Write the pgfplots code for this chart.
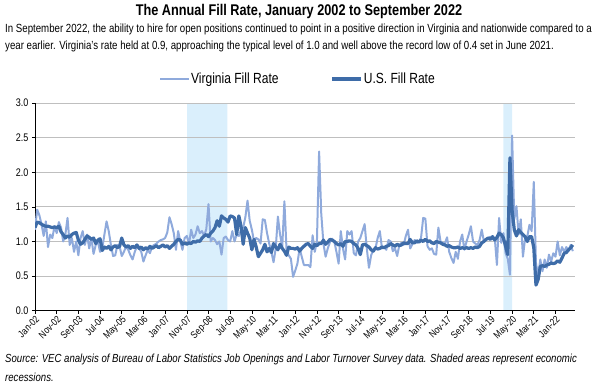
\documentclass[border=0pt]{standalone}
\usepackage{fontspec}
\setmainfont{Liberation Sans}[FakeStretch=0.82]
\usepackage{pgfplots}
\pgfplotsset{compat=1.18}
\usepackage{pgfplotstable}
\definecolor{vaC}{HTML}{8FAADC}
\definecolor{usC}{HTML}{3E6CA8}
\definecolor{shadeC}{HTML}{DAEFFC}
\definecolor{gridC}{HTML}{BFBFBF}
\pgfplotstableread{
i va us
0 1.17 1.20
1 1.46 1.28
2 1.38 1.27
3 1.25 1.25
4 1.08 1.23
5 1.29 1.22
6 0.92 1.22
7 1.10 1.21
8 1.05 1.20
9 1.22 1.21
10 1.12 1.20
11 1.28 1.22
12 1.20 1.14
13 1.00 1.10
14 1.10 1.05
15 1.34 1.08
16 0.95 1.06
17 1.05 1.10
18 0.85 1.12
19 1.00 1.13
20 0.80 1.02
21 1.05 0.96
22 1.15 0.98
23 0.95 1.03
24 1.10 1.08
25 0.90 1.06
26 1.05 1.03
27 0.82 1.05
28 0.95 0.97
29 1.00 1.02
30 0.85 1.04
31 0.90 0.87
32 1.10 0.92
33 1.29 0.90
34 1.15 0.93
35 0.95 0.88
36 0.79 0.92
37 0.80 0.94
38 0.95 0.91
39 0.93 0.93
40 0.79 1.05
41 0.85 0.95
42 0.93 0.92
43 0.88 0.94
44 0.80 0.90
45 0.74 0.93
46 0.85 0.91
47 0.93 0.95
48 0.90 0.90
49 0.85 0.92
50 0.71 0.88
51 0.80 0.91
52 0.88 0.89
53 0.83 0.93
54 0.93 0.90
55 0.95 0.92
56 0.97 0.94
57 1.00 0.91
58 1.02 0.93
59 1.03 0.95
60 1.05 0.92
61 1.13 0.94
62 1.35 0.90
63 1.25 0.93
64 1.12 0.96
65 0.88 1.00
66 1.15 1.03
67 1.00 1.02
68 0.88 0.96
69 1.05 0.98
70 1.08 0.96
71 0.96 0.98
72 1.17 0.97
73 1.05 1.00
74 1.10 0.99
75 1.22 1.01
76 1.12 1.00
77 1.15 1.05
78 1.08 1.08
79 1.18 1.10
80 1.54 1.07
81 1.00 1.12
82 1.05 1.15
83 1.02 1.20
84 0.96 1.30
85 1.00 1.22
86 0.81 1.37
87 1.05 1.34
88 1.07 1.32
89 1.02 1.28
90 1.00 1.37
91 1.15 1.36
92 1.00 1.34
93 1.10 1.10
94 1.08 1.37
95 1.17 1.22
96 1.20 0.96
97 1.35 1.20
98 1.59 1.12
99 1.30 1.05
100 1.17 0.88
101 1.00 1.03
102 1.05 0.92
103 1.03 0.78
104 0.97 0.83
105 1.32 0.88
106 1.31 0.96
107 1.12 0.85
108 0.97 0.90
109 0.85 0.84
110 0.70 0.97
111 0.90 0.92
112 1.36 0.88
113 1.10 0.96
114 0.92 0.90
115 1.58 0.86
116 0.87 0.80
117 0.80 0.92
118 0.75 0.90
119 0.49 0.90
120 0.58 0.89
121 0.68 0.91
122 0.90 0.86
123 0.78 0.90
124 0.66 0.93
125 0.66 0.96
126 0.66 0.97
127 0.63 0.93
128 1.09 0.90
129 0.85 0.96
130 1.00 0.94
131 2.30 0.97
132 1.40 0.97
133 0.97 1.02
134 0.78 0.96
135 0.90 0.99
136 0.99 1.03
137 1.04 1.02
138 1.00 1.00
139 0.85 0.97
140 0.68 0.95
141 1.15 0.97
142 0.90 0.93
143 0.74 1.00
144 1.15 1.00
145 1.10 1.01
146 1.15 1.00
147 0.83 0.97
148 0.80 0.95
149 1.00 0.90
150 1.05 0.81
151 1.15 0.95
152 1.25 0.96
153 0.90 0.94
154 0.62 0.92
155 0.80 0.88
156 0.88 0.86
157 0.90 0.91
158 1.05 0.89
159 1.15 0.90
160 0.90 0.92
161 0.92 0.91
162 0.88 0.93
163 1.02 0.94
164 1.00 0.97
165 0.86 0.95
166 0.90 0.93
167 0.79 0.96
168 0.95 0.94
169 0.98 0.95
170 0.95 0.98
171 1.08 0.97
172 1.17 0.97
173 0.90 1.03
174 0.96 0.98
175 1.02 0.98
176 0.98 1.01
177 1.00 0.99
178 1.05 1.02
179 1.34 1.00
180 1.33 1.03
181 0.93 1.00
182 0.88 1.01
183 0.90 0.98
184 0.82 0.97
185 0.81 1.00
186 1.20 0.99
187 1.00 0.98
188 0.98 0.96
189 0.97 0.95
190 1.06 0.93
191 0.85 0.94
192 0.76 0.92
193 0.69 0.91
194 0.85 0.91
195 0.75 0.92
196 1.00 0.90
197 1.10 0.91
198 0.88 0.90
199 1.00 0.91
200 1.10 0.90
201 1.22 0.91
202 1.00 0.90
203 0.97 0.92
204 0.95 0.91
205 1.02 0.93
206 1.17 0.98
207 1.00 1.00
208 1.02 1.03
209 1.05 1.05
210 1.07 1.03
211 1.03 1.07
212 1.05 1.02
213 0.66 1.06
214 1.34 1.12
215 0.98 1.10
216 1.12 1.05
217 0.83 0.93
218 0.75 0.81
219 0.52 2.21
220 2.53 1.45
221 1.32 1.17
222 1.51 1.08
223 1.10 1.17
224 1.32 1.13
225 0.78 1.10
226 1.05 1.07
227 1.07 1.00
228 1.24 1.07
229 1.15 1.07
230 1.86 0.91
231 0.69 0.37
232 0.50 0.45
233 0.74 0.64
234 0.57 0.65
235 0.74 0.64
236 0.62 0.66
237 0.81 0.67
238 0.71 0.69
239 0.83 0.68
240 0.78 0.69
241 1.00 0.72
242 0.80 0.70
243 0.92 0.76
244 0.85 0.83
245 0.92 0.84
246 0.86 0.88
247 0.95 0.91
248 0.86 0.95
}\fillrate
\begin{document}
\begin{tikzpicture}
\path (0,0) rectangle (598pt,-386pt);
\node[anchor=base, inner sep=0] at (299pt,-15.5pt) {\fontsize{15.5}{17}\selectfont\bfseries The Annual Fill Rate, January 2002 to September 2022};
\node[anchor=base west, inner sep=0] at (5pt,-32pt) {\fontsize{11.8}{13}\selectfont In September 2022, the ability to hire for open positions continued to point in a positive direction in Virginia and nationwide compared to a};
\node[anchor=base west, inner sep=0] at (5pt,-49pt) {\fontsize{11.8}{13}\selectfont year earlier. Virginia's rate held at 0.9, approaching the typical level of 1.0 and well above the record low of 0.4 set in June 2021.};
\node[anchor=base west, inner sep=0] at (5pt,-362pt) {\fontsize{11.7}{13}\selectfont\itshape Source: VEC analysis of Bureau of Labor Statistics Job Openings and Labor Turnover Survey data. Shaded areas represent economic};
\node[anchor=base west, inner sep=0] at (5pt,-381pt) {\fontsize{11.7}{13}\selectfont\itshape recessions.};
\begin{axis}[
  set layers,
  at={(35pt,-310.7pt)}, anchor=south west,
  scale only axis, width=540pt, height=207.7pt,
  xmin=0, xmax=249, ymin=0, ymax=3,
  axis x line*=bottom, axis y line*=left,
  axis line style={black, line width=0.8pt, -},
  xtick={0,10,...,240},
  xticklabels={Jan-02,Nov-02,Sep-03,Jul-04,May-05,Mar-06,Jan-07,Nov-07,Sep-08,Jul-09,May-10,Mar-11,Jan-12,Nov-12,Sep-13,Jul-14,May-15,Mar-16,Jan-17,Nov-17,Sep-18,Jul-19,May-20,Mar-21,Jan-22},
  x tick label style={rotate=45, anchor=north east, font=\fontsize{10}{11}\selectfont, inner sep=1pt},
  ytick={0,0.5,...,3},
  yticklabel style={font=\fontsize{11}{12}\selectfont, /pgf/number format/.cd, fixed, fixed zerofill, precision=1},
  /pgf/number format/assume math mode=true,
  ymajorgrids, grid style={gridC, line width=0.8pt},
  tick style={black, line width=0.6pt}, major tick length=3pt, tick align=outside,
  legend style={at={(axis description cs:0.486,1.116)}, anchor=center, draw=none, fill=none,
    legend columns=2, font=\fontsize{14.7}{16}\selectfont, inner xsep=0pt,
    nodes={inner xsep=1pt},
    /tikz/every even column/.append style={column sep=51pt}},
  legend image code/.code={\draw[#1] (0pt,0pt) -- (29pt,0pt);},
]
\addplot[fill=shadeC, draw=none, forget plot, on layer=axis background] coordinates {(70.2,0) (70.2,3) (88.7,3) (88.7,0)} \closedcycle;
\addplot[fill=shadeC, draw=none, forget plot, on layer=axis background] coordinates {(216,0) (216,3) (220,3) (220,0)} \closedcycle;
\addplot[vaC, line width=2pt, line join=round] table[x=i, y=va] {\fillrate};
\addlegendentry{Virginia Fill Rate}
\addplot[usC, line width=3.2pt, line join=round] table[x=i, y=us] {\fillrate};
\addlegendentry{U.S. Fill Rate}
\end{axis}
\end{tikzpicture}
\end{document}
